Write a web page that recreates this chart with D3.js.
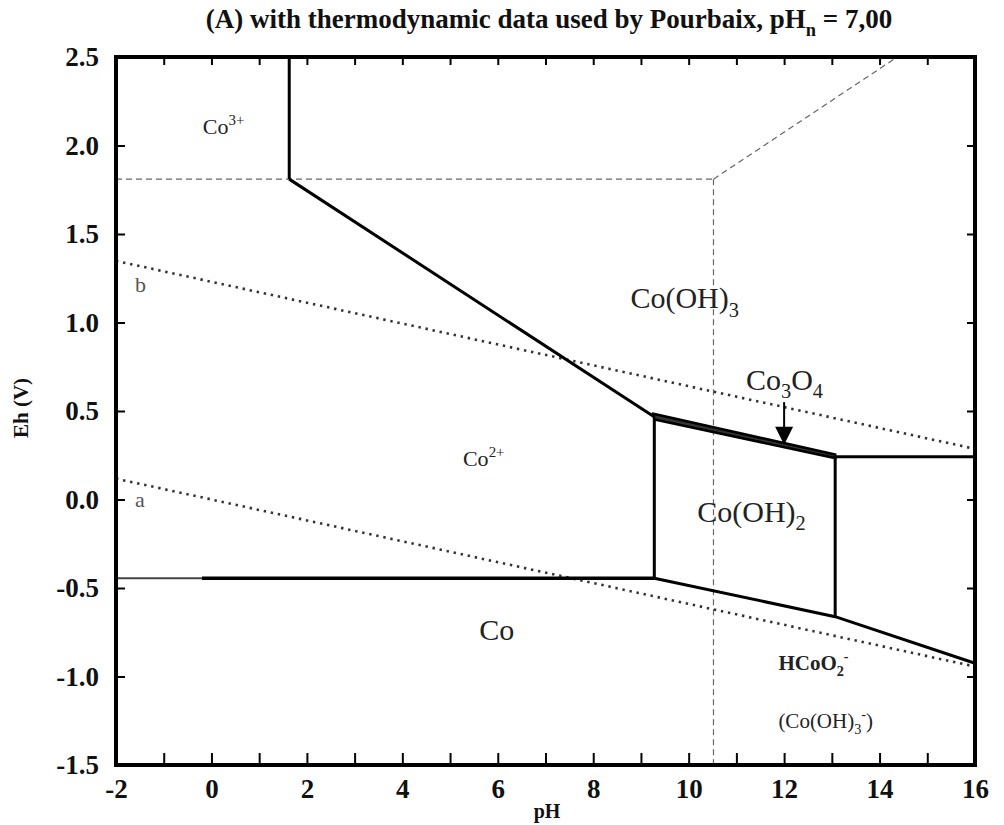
<!DOCTYPE html>
<html>
<head>
<meta charset="utf-8">
<script src="https://cdn.jsdelivr.net/npm/d3@7"></script>
<style>
  body { margin: 0; background: #fff; }
  svg { display: block; font-family: "Liberation Serif", "Times New Roman", serif; }
</style>
</head>
<body>
<svg></svg>
<script>
// POURBAIX DIAGRAM FOR COBALT - pH vs Eh

// axis values
const xDomain = [-2, 16]
const yDomain = [-1.5, 2.5]
const xTickValues = d3.range(-2, 17, 1)
const xLabelValues = [-2, 0, 2, 4, 6, 8, 10, 12, 14, 16]
const yTickValues = [-1.5, -1.0, -0.5, 0.0, 0.5, 1.0, 1.5, 2.0, 2.5]

// phase boundaries, [pH, Eh]
const co3Co2Line = [[1.63, 2.5], [1.63, 1.81]]
const co2CoOH3Line = [[1.63, 1.81], [9.26, 0.47]]
const co3o4Upper = [[9.26, 0.484], [13.07, 0.254]]
const co3o4Lower = [[9.28, 0.452], [13.07, 0.234]]
const coOH3HcoLine = [[13.07, 0.242], [16, 0.242]]
const co2CoOH2Line = [[9.28, 0.46], [9.28, -0.445]]
const coOH2HcoLine = [[13.07, 0.24], [13.07, -0.662]]
const coCo2LineStart = [[-2, -0.445], [-0.2, -0.445]]
const coCo2Line = [[-0.2, -0.445], [9.28, -0.445]]
const coLowerLine = [[9.28, -0.445], [13.07, -0.662], [16, -0.925]]

// water stability lines a and b
const waterA = [[-2, 0.118], [16, -0.944]]
const waterB = [[-2, 1.348], [16, 0.286]]

// thin dashed guides
const dashedH = [[-2, 1.81], [10.52, 1.81]]
const dashedV = [[10.52, 1.81], [10.52, -1.5]]
const dashedD = [[10.52, 1.81], [14.37, 2.5]]

// arrow pointing at Co3O4 sliver
const arrowPH = 12
const arrowEh = [0.55, 0.31]

// region labels: parts, pH, Eh, size, weight
const regionLabels = [
  { parts: [['Co', ''], ['3+', 'sup']], pH: -0.18, eh: 2.065, size: 22 },
  { parts: [['Co', ''], ['2+', 'sup']], pH: 5.27, eh: 0.19, size: 22 },
  { parts: [['Co(OH)', ''], ['3', 'sub']], pH: 8.78, eh: 1.08, size: 30 },
  { parts: [['Co', ''], ['3', 'sub'], ['O', ''], ['4', 'sub']], pH: 11.2, eh: 0.62, size: 30 },
  { parts: [['Co(OH)', ''], ['2', 'sub']], pH: 10.18, eh: -0.125, size: 30 },
  { parts: [['Co', '']], pH: 5.61, eh: -0.795, size: 30 },
  { parts: [['HCoO', ''], ['2', 'sub'], ['-', 'sup']], pH: 11.88, eh: -0.963, size: 21, bold: true },
  { parts: [['(Co(OH)', ''], ['3', 'sub'], ['-', 'sup'], [')', '']], pH: 11.88, eh: -1.29, size: 21 },
  { parts: [['a', '']], pH: -1.6, eh: -0.04, size: 22, fill: '#555' },
  { parts: [['b', '']], pH: -1.6, eh: 1.172, size: 22, fill: '#555' }
]

const svg = d3.select('svg')
              .attr('width', 1004)
              .attr('height', 825)

const margin = { left: 116, top: 57, right: 29, bottom: 60 }
const width = 1004
const height = 825

const xscale = d3.scaleLinear()
                 .domain(xDomain)
                 .range([margin.left, width - margin.right])
const yscale = d3.scaleLinear()
                 .domain(yDomain)
                 .range([height - margin.bottom, margin.top])

const line = d3.line().x(d => xscale(d[0])).y(d => yscale(d[1]))

const drawLine = (pts, w, color, dash) => {
  const p = svg.append('path')
               .attr('d', line(pts))
               .attr('fill', 'none')
               .attr('stroke', color)
               .attr('stroke-width', w)
               .attr('stroke-linejoin', 'miter')
  if (dash) p.attr('stroke-dasharray', dash)
  return p
}

// DASHED GUIDES
drawLine(dashedH, 1.2, '#666', '6 4')
drawLine(dashedV, 1.2, '#666', '6 4')
drawLine(dashedD, 1.2, '#666', '6 4')

// DOTTED WATER LINES
drawLine(waterA, 2.6, '#333', '2.4 4.8')
drawLine(waterB, 2.6, '#333', '2.4 4.8')

// SOLID BOUNDARIES
drawLine(co3Co2Line, 3, '#000')
drawLine(co2CoOH3Line, 3, '#000')
drawLine(coOH3HcoLine, 3, '#000')
drawLine(co2CoOH2Line, 3, '#000')
drawLine(coOH2HcoLine, 3, '#000')
drawLine(coCo2LineStart, 1.8, '#444')
drawLine(coCo2Line, 3.4, '#000')
drawLine(coLowerLine, 3, '#000')

// Co3O4 sliver between the two lines
svg.append('path')
   .attr('d', line(co3o4Upper.concat(co3o4Lower.slice().reverse())) + 'Z')
   .attr('fill', '#333')
   .attr('stroke', '#000')
   .attr('stroke-width', 2.6)

// ARROW
svg.append('line')
   .attr('x1', xscale(arrowPH)).attr('x2', xscale(arrowPH))
   .attr('y1', yscale(arrowEh[0])).attr('y2', yscale(arrowEh[1]) - 14)
   .attr('stroke', '#000').attr('stroke-width', 2)
svg.append('path')
   .attr('d', `M${xscale(arrowPH) - 9},${yscale(arrowEh[1]) - 18} L${xscale(arrowPH) + 9},${yscale(arrowEh[1]) - 18} L${xscale(arrowPH)},${yscale(arrowEh[1])} Z`)
   .attr('fill', '#000')

// FRAME
svg.append('rect')
   .attr('x', xscale(-2)).attr('y', yscale(2.5))
   .attr('width', xscale(16) - xscale(-2))
   .attr('height', yscale(-1.5) - yscale(2.5))
   .attr('fill', 'none').attr('stroke', '#000').attr('stroke-width', 4)

// AXES, ticks pointing inward
const styleAxis = (g) => {
  g.select('.domain').remove()
  g.selectAll('.tick line').attr('stroke', '#000').attr('stroke-width', 2)
  g.selectAll('.tick text')
   .attr('fill', '#111')
   .style('font-family', '"Liberation Serif", serif')
   .style('font-weight', 'bold')
   .style('font-size', '27px')
}

svg.append('g')
   .attr('transform', `translate(0,${yscale(-1.5)})`)
   .call(d3.axisBottom(xscale)
           .tickValues(xTickValues)
           .tickSize(-12)
           .tickPadding(14)
           .tickFormat(d => xLabelValues.includes(d) ? String(d) : ''))
   .call(styleAxis)

svg.append('g')
   .attr('transform', `translate(0,${yscale(2.5)})`)
   .call(d3.axisTop(xscale).tickValues(xTickValues).tickSize(-8).tickFormat(''))
   .call(styleAxis)

svg.append('g')
   .attr('transform', `translate(${xscale(-2)},0)`)
   .call(d3.axisLeft(yscale)
           .tickValues(yTickValues)
           .tickSize(-9)
           .tickPadding(17)
           .tickFormat(d => d.toFixed(1)))
   .call(styleAxis)

svg.append('g')
   .attr('transform', `translate(${xscale(16)},0)`)
   .call(d3.axisRight(yscale).tickValues(yTickValues).tickSize(-8).tickFormat(''))
   .call(styleAxis)

// TEXT WITH SUB/SUPERSCRIPTS
const addLabel = (parts, px, py, size, bold, fill, anchor) => {
  const t = svg.append('text')
               .attr('x', px).attr('y', py)
               .attr('fill', fill || '#222')
               .attr('text-anchor', anchor || 'start')
               .style('font-family', '"Liberation Serif", serif')
               .style('font-size', size + 'px')
               .style('font-weight', bold ? 'bold' : 'normal')
  let shift = 0
  parts.forEach(([s, kind]) => {
    const target = kind === 'sub' ? size * 0.28 : kind === 'sup' ? -size * 0.42 : 0
    t.append('tspan')
     .attr('dy', target - shift)
     .style('font-size', kind ? (size * 0.68) + 'px' : null)
     .text(s)
    shift = target
  })
  return t
}

regionLabels.forEach(l => {
  addLabel(l.parts, xscale(l.pH), yscale(l.eh), l.size, l.bold, l.fill)
})

// TITLE
addLabel([['(A) with thermodynamic data used by Pourbaix, pH', ''], ['n', 'sub'], [' = 7,00', '']],
         549, 28, 27, true, '#111', 'middle')

// AXIS TITLES
svg.append('text')
   .attr('x', 547).attr('y', 818)
   .attr('text-anchor', 'middle')
   .style('font-size', '20px').style('font-weight', 'bold')
   .attr('fill', '#111')
   .text('pH')

svg.append('text')
   .attr('transform', 'translate(28,408) rotate(-90)')
   .attr('text-anchor', 'middle')
   .style('font-size', '21px').style('font-weight', 'bold')
   .attr('fill', '#111')
   .text('Eh (V)')
</script>
</body>
</html>
